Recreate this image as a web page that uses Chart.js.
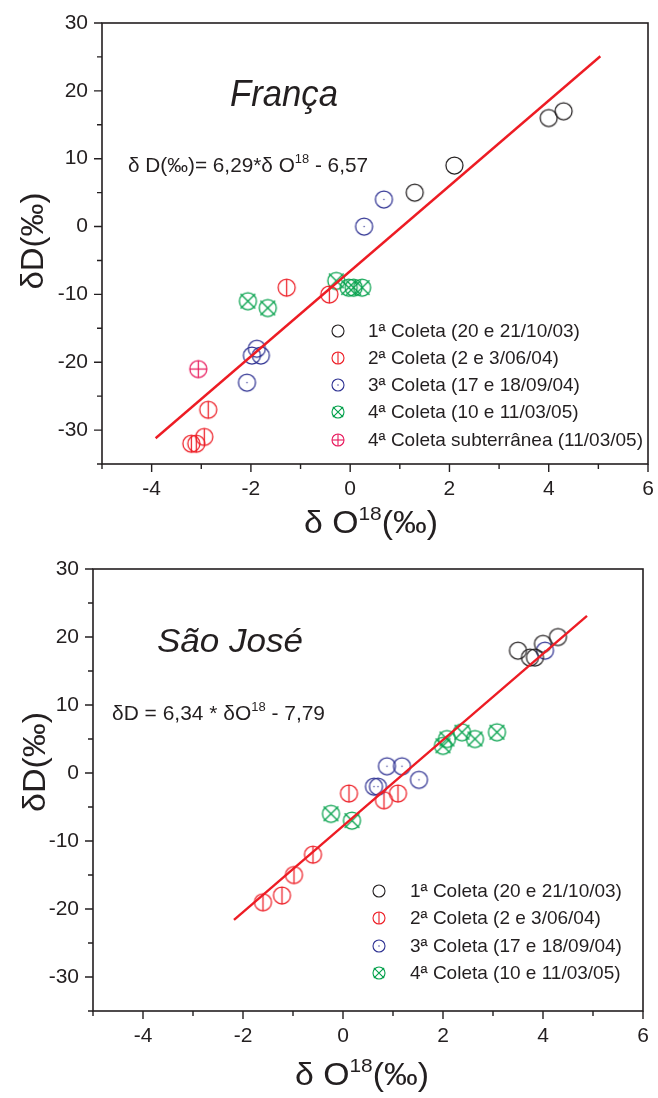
<!DOCTYPE html>
<html><head><meta charset="utf-8">
<script src="https://cdn.jsdelivr.net/npm/chart.js@4/dist/chart.umd.min.js"></script>
<style>
html,body{margin:0;padding:0;background:#fff;width:658px;height:1098px;overflow:hidden}
.wrap{position:absolute;left:0;width:658px;height:549px}
canvas{display:block}
</style></head><body>
<div class="wrap" style="top:0"><canvas id="c1" width="658" height="549"></canvas></div>
<div class="wrap" style="top:549px"><canvas id="c2" width="658" height="549"></canvas></div>
<script>
// ---------- DATA ----------
const legendLabels = [
  '1ª Coleta (20 e 21/10/03)',
  '2ª Coleta (2 e 3/06/04)',
  '3ª Coleta (17 e 18/09/04)',
  '4ª Coleta (10 e 11/03/05)',
  '4ª Coleta subterrânea (11/03/05)'
];
const xTicks = [-4, -2, 0, 2, 4, 6];
const yTicks = [-30, -20, -10, 0, 10, 20, 30];

// França
const frC1X = [4.0, 4.3, 2.1, 1.3];
const frC1Y = [16, 17, 9, 5];
const frC2X = [-1.28, -0.42, -2.86, -2.94, -3.2, -3.1];
const frC2Y = [-9, -10, -27, -31, -32, -32];
const frC3X = [0.68, 0.28, -1.88, -1.98, -1.8, -2.08];
const frC3Y = [4, 0, -18, -19, -19, -23];
const frC4X = [-2.06, -1.66, -0.28, -0.03, 0.07, 0.24];
const frC4Y = [-11, -12, -8, -9, -9, -9];
const frC5X = [-3.06];
const frC5Y = [-21];
const frLineX = [-3.92, 5.04];
const frLineY = [-31.2, 25.1];

// São José
const sjC1X = [3.5, 3.74, 3.84, 4.0, 4.3];
const sjC1Y = [18, 17, 17, 19, 20];
const sjC2X = [-1.6, -1.22, -0.98, -0.6, 0.12, 0.82, 1.1];
const sjC2Y = [-19, -18, -15, -12, -3, -4, -3];
const sjC3X = [0.62, 0.7, 0.88, 1.18, 1.52, 4.04];
const sjC3Y = [-2, -2, 1, 1, -1, 18];
const sjC4X = [-0.24, 0.18, 2.0, 2.08, 2.38, 2.64, 3.08];
const sjC4Y = [-6, -7, 4, 5, 6, 5, 6];
const sjLineX = [-2.18, 4.88];
const sjLineY = [-21.6, 23.1];

// ---------- STYLE ----------
const FONT = '"Liberation Sans", Arial, Helvetica, sans-serif';
const INK = '#231f20';
const COLORS = ['#231f20', '#ed1c24', '#2e3192', '#00a04a', '#e8185c'];
const KINDS = ['plain', 'bar', 'dot', 'x', 'plus'];

function marker(kind, color, r, lw) {
  const pad = Math.ceil(r * 0.3) + 2;
  const size = Math.ceil(2 * r + 2 * pad);
  const c = document.createElement('canvas');
  c.width = size; c.height = size;
  const g = c.getContext('2d');
  const m = size / 2;
  g.strokeStyle = color; g.fillStyle = color; g.lineWidth = lw;
  g.beginPath(); g.arc(m, m, r, 0, Math.PI * 2); g.stroke();
  if (kind === 'bar' || kind === 'plus') {
    g.beginPath(); g.moveTo(m, m - r); g.lineTo(m, m + r); g.stroke();
  }
  if (kind === 'plus') {
    g.beginPath(); g.moveTo(m - r, m); g.lineTo(m + r, m); g.stroke();
  }
  if (kind === 'x') {
    const d = r * 0.86;
    g.beginPath(); g.moveTo(m - d, m - d); g.lineTo(m + d, m + d);
    g.moveTo(m + d, m - d); g.lineTo(m - d, m + d); g.stroke();
  }
  if (kind === 'dot') {
    g.beginPath(); g.arc(m, m, 0.7, 0, Math.PI * 2); g.fill();
  }
  return c;
}

function drawRich(ctx, parts, x, y, size, opts) {
  opts = opts || {};
  const style = opts.italic ? 'italic ' : '';
  ctx.save();
  let total = 0;
  parts.forEach(p => {
    const fs = p.sup ? size * 0.62 : size;
    ctx.font = style + fs + 'px ' + FONT;
    p._w = ctx.measureText(p.t).width; total += p._w;
  });
  const sx = opts.width ? opts.width / total : 1;
  ctx.translate(x, y);
  if (opts.rotate) ctx.rotate(opts.rotate);
  ctx.scale(sx, 1);
  let cx = opts.center ? -total / 2 : 0;
  ctx.fillStyle = opts.color || INK;
  ctx.textBaseline = opts.baseline || 'alphabetic';
  ctx.textAlign = 'left';
  parts.forEach(p => {
    const fs = p.sup ? size * 0.62 : size;
    ctx.font = style + fs + 'px ' + FONT;
    ctx.fillText(p.t, cx, p.sup ? -size * 0.42 : 0);
    cx += p._w;
  });
  ctx.restore();
}

const decoPlugin = {
  id: 'deco',
  afterDraw(chart, args, o) {
    const ctx = chart.ctx;
    const a = chart.chartArea;
    const xs = chart.scales.x, ys = chart.scales.y;
    ctx.save();
    ctx.strokeStyle = INK; ctx.lineWidth = 1.6;
    ctx.strokeRect(a.left, a.top, a.right - a.left, a.bottom - a.top);
    ctx.lineWidth = 1.4;
    ctx.beginPath();
    for (let v = xs.min; v <= xs.max + 1e-9; v += 1) {
      const px = xs.getPixelForValue(v);
      const len = (Math.round(v) % 2 === 0) ? 8 : 5;
      ctx.moveTo(px, a.bottom); ctx.lineTo(px, a.bottom + len);
    }
    for (let v = ys.min; v <= ys.max + 1e-9; v += 5) {
      const py = ys.getPixelForValue(v);
      const len = (Math.round(v) % 10 === 0) ? 8 : 5;
      ctx.moveTo(a.left, py); ctx.lineTo(a.left - len, py);
    }
    ctx.stroke();
    ctx.restore();

    // title
    drawRich(ctx, [{t: o.title}], o.titleX, o.titleY, o.titleSize, {italic: true, width: o.titleW});
    // equation
    drawRich(ctx, o.eq, o.eqX, o.eqY, 21, {width: o.eqW});
    // axis titles
    drawRich(ctx, [{t: 'δ O'}, {t: '18', sup: true}, {t: '(‰)'}], o.xtX, o.xtY, 31, {width: o.xtW});
    drawRich(ctx, [{t: 'δD(‰)'}], o.ytX, o.ytY, 32, {rotate: -Math.PI / 2, center: true, baseline: 'middle', width: o.ytW});
    // legend
    o.legendY.forEach((ly, i) => {
      const m = marker(KINDS[i], COLORS[i], 6, 1.1);
      ctx.drawImage(m, o.legSymX - m.width / 2, ly - m.height / 2);
      ctx.save();
      ctx.font = '19px ' + FONT;
      ctx.fillStyle = INK; ctx.textBaseline = 'middle'; ctx.textAlign = 'left';
      ctx.fillText(legendLabels[i], o.legTextX, ly + 1);
      ctx.restore();
    });
  }
};

function pts(xa, ya) { return xa.map((v, i) => ({x: v, y: ya[i]})); }

function build(id, series, line, deco, area) {
  const datasets = series.map((s, i) => ({
    type: 'scatter',
    label: legendLabels[i],
    data: pts(s[0], s[1]),
    pointStyle: marker(KINDS[i], COLORS[i], 8.5, 1.25),
    pointRadius: 9, pointHoverRadius: 9,
    order: 1
  }));
  datasets.push({
    type: 'line', label: 'fit', data: pts(line[0], line[1]),
    borderColor: '#ed1c24', borderWidth: 2.4, pointRadius: 0, fill: false, order: 0
  });
  new Chart(document.getElementById(id), {
    data: {datasets},
    options: {
      responsive: false, animation: false, devicePixelRatio: 1,
      layout: {padding: {left: 0, right: area.right, top: area.top, bottom: 0}},
      plugins: {legend: {display: false}, tooltip: {enabled: false}, deco: deco},
      scales: {
        x: {
          type: 'linear', min: -5, max: 6, position: 'bottom',
          ticks: {stepSize: 1, autoSkip: false, maxRotation: 0, color: INK, padding: 5,
            font: {family: FONT, size: 21},
            callback: v => xTicks.includes(Math.round(v)) && Math.abs(v - Math.round(v)) < 1e-6 ? String(Math.round(v)) : ''},
          grid: {display: false, drawTicks: true, tickLength: 8},
          border: {display: false},
          afterFit: s => { s.height = area.xh; s.paddingLeft = 0; s.paddingRight = 0; }
        },
        y: {
          type: 'linear', min: -35, max: 30, position: 'left',
          ticks: {stepSize: 5, autoSkip: false, color: INK, padding: 6,
            font: {family: FONT, size: 21},
            callback: v => yTicks.includes(Math.round(v)) ? String(Math.round(v)) : ''},
          grid: {display: false, drawTicks: true, tickLength: 8},
          border: {display: false},
          afterFit: s => { s.width = area.yw; s.paddingTop = 0; s.paddingBottom = 0; }
        }
      }
    },
    plugins: [decoPlugin]
  });
}

build('c1',
  [[frC1X, frC1Y], [frC2X, frC2Y], [frC3X, frC3Y], [frC4X, frC4Y], [frC5X, frC5Y]],
  [frLineX, frLineY],
  {
    title: 'França', titleX: 230, titleY: 106, titleSize: 37, titleW: 108,
    eq: [{t: 'δ D(‰)= 6,29*δ O'}, {t: '18', sup: true}, {t: ' - 6,57'}], eqX: 128, eqY: 172, eqW: 240,
    xtX: 304, xtY: 533, xtW: 134,
    ytX: 34, ytY: 241, ytW: 97,
    legendY: [331, 358, 385, 412, 440], legSymX: 338, legTextX: 368
  },
  {right: 6, top: 23, xh: 85, yw: 102}
);

build('c2',
  [[sjC1X, sjC1Y], [sjC2X, sjC2Y], [sjC3X, sjC3Y], [sjC4X, sjC4Y]],
  [sjLineX, sjLineY],
  {
    title: 'São José', titleX: 157, titleY: 103, titleSize: 34, titleW: 146,
    eq: [{t: 'δD = 6,34 * δO'}, {t: '18', sup: true}, {t: ' - 7,79'}], eqX: 112, eqY: 171, eqW: 213,
    xtX: 295, xtY: 536, xtW: 134,
    ytX: 36, ytY: 213, ytW: 100,
    legendY: [342, 369, 397, 424], legSymX: 379, legTextX: 410
  },
  {right: 15, top: 20, xh: 87, yw: 93}
);
</script>
</body></html>
